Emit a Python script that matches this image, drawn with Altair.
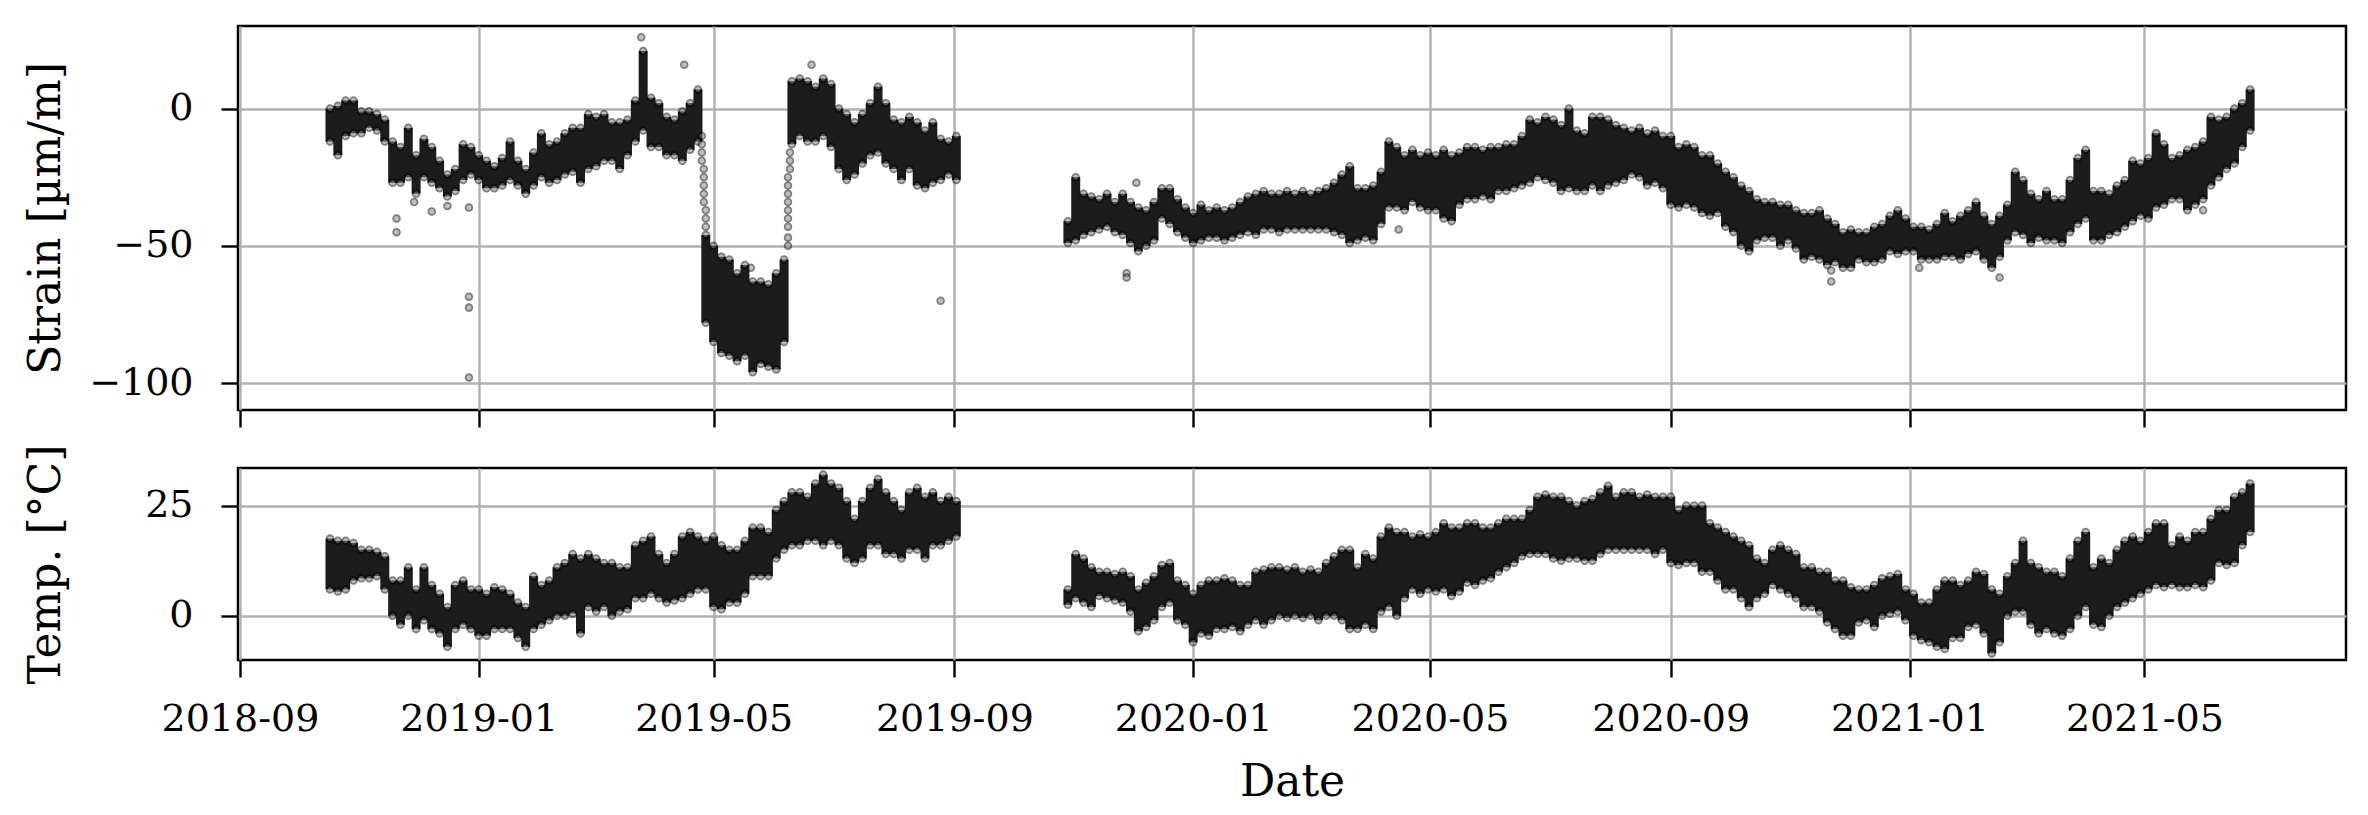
import altair as alt
import pandas as pd

# ---------------- data ----------------
# sampling every 4 days; "hi"/"lo" = upper / lower edge of the dense point band
STEP = "4D"
SEG1_START = "2018-10-17"
SEG2_START = "2019-10-29"

strain1_hi = [0, 1, 3, 3, -1, -1, -2, -4, -12, -14,
              -7, -17, -11, -14, -19, -24, -22, -13, -14, -17,
              -19, -21, -18, -12, -19, -22, -16, -9, -13, -12,
              -9, -7, -7, -2, -3, -2, -5, -5, -4, 3,
              21, 4, 2, -3, -4, -1, 2, 7, -46, -50,
              -54, -55, -60, -57, -63, -63, -64, -60, -55, 10,
              11, 10, 8, 11, 9, 0, -2, -5, -2, 2,
              8, 2, -4, -5, -3, -5, -8, -5, -11, -12,
              -10]
strain1_lo = [-12, -17, -10, -9, -9, -7, -8, -12, -27, -27,
              -25, -31, -25, -27, -29, -32, -30, -26, -24, -26,
              -29, -29, -28, -26, -28, -31, -28, -25, -27, -26,
              -24, -23, -27, -22, -21, -19, -19, -22, -17, -12,
              -8, -14, -14, -17, -17, -19, -15, -12, -78, -85,
              -89, -90, -92, -90, -96, -93, -94, -95, -85, -13,
              -10, -12, -12, -10, -14, -22, -26, -24, -20, -17,
              -16, -20, -22, -26, -22, -28, -29, -27, -26, -24,
              -26]
strain2_hi = [-41, -25, -31, -32, -33, -31, -34, -31, -34, -36,
              -37, -34, -29, -29, -33, -36, -38, -35, -37, -36,
              -37, -36, -34, -32, -31, -30, -31, -31, -30, -31,
              -30, -31, -30, -29, -27, -24, -21, -29, -29, -28,
              -23, -12, -14, -17, -15, -17, -16, -17, -15, -17,
              -16, -14, -14, -15, -14, -14, -13, -13, -10, -4,
              -5, -3, -4, -6, 0, -8, -9, -3, -3, -4,
              -6, -7, -8, -7, -9, -8, -10, -10, -14, -13,
              -14, -17, -17, -20, -23, -25, -28, -30, -33, -34,
              -34, -35, -35, -37, -38, -38, -37, -40, -42, -45,
              -44, -45, -45, -43, -42, -39, -37, -40, -43, -43,
              -44, -42, -38, -41, -39, -37, -34, -39, -42, -39,
              -35, -23, -26, -31, -33, -30, -33, -33, -26, -18,
              -15, -30, -30, -31, -28, -26, -19, -20, -18, -9,
              -13, -18, -17, -15, -14, -12, -3, -4, -3, 0,
              2, 7]
strain2_lo = [-49, -48, -46, -45, -44, -43, -45, -46, -49, -52,
              -50, -48, -40, -42, -45, -47, -49, -48, -47, -47,
              -48, -47, -46, -45, -46, -44, -44, -45, -44, -44,
              -44, -44, -44, -44, -45, -46, -49, -48, -47, -48,
              -42, -36, -36, -37, -34, -36, -37, -37, -40, -41,
              -35, -33, -33, -32, -33, -30, -30, -29, -28, -27,
              -25, -26, -27, -30, -29, -30, -30, -28, -30, -28,
              -27, -26, -24, -25, -28, -27, -29, -35, -36, -35,
              -36, -38, -39, -38, -43, -45, -50, -52, -48, -47,
              -47, -50, -48, -51, -55, -54, -55, -57, -56, -58,
              -58, -55, -56, -56, -55, -52, -53, -52, -52, -55,
              -55, -55, -54, -54, -55, -53, -52, -55, -58, -54,
              -48, -45, -46, -49, -47, -48, -48, -49, -45, -42,
              -40, -48, -48, -46, -45, -43, -41, -39, -40, -36,
              -35, -33, -33, -37, -35, -33, -28, -25, -22, -20,
              -14, -8]

# isolated strain readings (outliers and the fast drop / recovery in 2019)
strain_out_dates = ["2018-11-20", "2018-11-20", "2018-11-29", "2018-12-08", "2018-12-16",
                    "2018-12-27", "2018-12-27", "2018-12-27", "2018-12-27", "2019-03-25",
                    "2019-04-16", "2019-05-20", "2019-06-20", "2019-08-25", "2019-11-28",
                    "2019-11-28", "2019-12-03", "2020-04-15", "2020-11-22", "2020-11-22",
                    "2021-01-06", "2021-02-16", "2021-05-31",
                    "2019-04-25", "2019-04-25", "2019-04-25", "2019-04-25", "2019-04-26",
                    "2019-04-26", "2019-04-26", "2019-04-26", "2019-04-26", "2019-04-27",
                    "2019-04-27", "2019-04-27",
                    "2019-06-08", "2019-06-08", "2019-06-08", "2019-06-08", "2019-06-08",
                    "2019-06-08", "2019-06-08", "2019-06-08", "2019-06-08", "2019-06-09",
                    "2019-06-09", "2019-06-09"]
strain_out_vals = [-40, -45, -34, -37.5, -35.5, -36, -68.5, -72.5, -98, 26,
                   16, -58, 16, -70, -60, -61.5, -27, -44, -59, -63,
                   -58, -61.5, -37,
                   -10, -13, -16, -19, -22, -25, -28, -31, -34, -37,
                   -40, -43,
                   -50, -47, -43, -40, -37, -34, -31, -28, -25, -22,
                   -19, -16]

temp1_hi = [17.5, 17, 17, 16.5, 15, 15, 14.5, 13.5, 8, 8,
            11, 6, 11, 7, 5, 2, 7, 8, 6, 6,
            5, 6.5, 6, 5, 3, 2, 9, 7, 8, 11,
            12, 14, 13, 14, 13, 12, 12, 11, 11, 16,
            17, 18, 14, 12, 14, 18, 19, 18, 17, 18,
            16, 15, 15, 17, 20, 20, 19, 24, 26, 28,
            28, 27, 30, 32, 30, 29, 26, 22, 26, 29,
            31, 28, 26, 24, 28, 29, 27, 28, 26, 27,
            26]
temp1_lo = [6, 5.5, 6, 8, 8.5, 8.5, 9, 6, 0, -2,
            0, -3, -1, -3, -4, -7, -3, -2, -3, -4.5,
            -4.5, -3, -3, -3, -5, -7, -3, -2, -1, 0,
            0, 0.5, -4, 2, 1, 2, 0, 1, 1.5, 4,
            4, 5, 4, 3, 3.5, 4, 5, 6, 6, 2,
            1.5, 3, 3, 5, 9, 9, 9, 13, 15, 16,
            16, 17, 17, 16, 17, 16, 13, 12, 13, 16,
            16, 14, 14, 13, 15, 15, 13, 16, 16, 17,
            18]
temp2_hi = [6, 14, 13, 11, 10, 10, 9.5, 10, 9, 6,
            7.5, 9, 11.5, 12, 8, 7, 5, 7, 8, 8,
            8.5, 8, 7, 7, 10, 10.5, 11, 11, 10.5, 11,
            10, 10.5, 10, 12, 13.5, 15, 15, 11, 14, 13,
            18, 20, 19, 19, 18, 18.5, 18, 19, 21, 20,
            20, 21, 21, 20, 20, 21, 22, 22, 22, 24,
            27, 27.5, 27, 27, 26, 25, 26, 26.5, 28, 29.5,
            27, 28, 28, 27, 27.5, 27, 27, 27, 24, 25,
            25, 25, 21, 20, 19, 18, 17, 16, 13, 12,
            15, 16, 15, 14, 11, 11, 10, 10, 8, 8,
            6.5, 6, 6, 7, 8.5, 9, 9.5, 6, 5, 3,
            3, 6, 8, 8, 7, 8, 10, 9.5, 6, 5,
            9, 12, 17, 12, 11, 10, 10, 9, 13, 17,
            19, 11, 13, 12, 15, 17, 18, 17, 19, 21,
            21, 16, 18, 17, 19, 19, 22, 24, 24, 27,
            28, 30]
temp2_lo = [2.5, 4, 3, 2, 4.5, 4, 3.5, 3, 1, -3.5,
            -2.5, -1, 2, 3, -1, -2, -6, -4, -4.5, -3,
            -3, -2.5, -3.5, -2, -1, -2, -1, 0, -0.5, 0,
            -0.5, 0, -1, 0, 0, -1, -3, -3, -2, -3,
            1, 2, 0, 4, 6, 5, 6, 5.5, 6, 4.5,
            5.5, 7.5, 7, 8, 8.5, 10, 11, 12, 13.5, 14,
            14, 14, 13, 12.5, 13, 13, 12.5, 12.5, 14, 15,
            15, 15, 15, 15, 15, 14, 15, 12, 11.5, 12,
            12, 10, 10, 8, 6, 6, 4, 2, 4, 5,
            7, 6, 5, 4, 2, 2, 1, -1.5, -3, -4.5,
            -4.5, -1.5, -1, -2.5, 0, 0.5, 1, -1, -4.5, -5.5,
            -6, -7, -7.5, -5, -5, -2.5, -2, -4, -8.5, -6,
            0, 1, 1, -2, -4, -3, -4, -4.5, -3, 0,
            2, -2, -2.5, 0, 2, 3, 4, 5, 6, 7,
            6.5, 7, 6.5, 6.5, 7, 6.5, 8, 12, 11.5, 12,
            16, 19]

TICK_MONTHS = [(2018, 9), (2019, 1), (2019, 5), (2019, 9), (2020, 1),
               (2020, 5), (2020, 9), (2021, 1), (2021, 5)]
STRAIN_TICKS = [-100, -50, 0]
TEMP_TICKS = [0, 25]

# ---------------- tables ----------------
def band(start, hi, lo):
    n = min(len(hi), len(lo))
    return pd.DataFrame({"date": pd.date_range(start, periods=n, freq=STEP),
                         "hi": hi[:n], "lo": lo[:n]})


def points(b, extra_dates=None, extra_vals=None):
    parts = [b[["date", "hi"]].rename(columns={"hi": "v"}),
             b[["date", "lo"]].rename(columns={"lo": "v"})]
    if extra_dates:
        n = min(len(extra_dates), len(extra_vals))
        parts.append(pd.DataFrame({"date": pd.to_datetime(extra_dates[:n]), "v": extra_vals[:n]}))
    return pd.concat(parts, ignore_index=True)


strain_band = pd.concat([band(SEG1_START, strain1_hi, strain1_lo),
                         band(SEG2_START, strain2_hi, strain2_lo)], ignore_index=True)
temp_band = pd.concat([band(SEG1_START, temp1_hi, temp1_lo),
                       band(SEG2_START, temp2_hi, temp2_lo)], ignore_index=True)
strain_pts = points(strain_band, strain_out_dates, strain_out_vals)
temp_pts = points(temp_band)

# ---------------- chart ----------------
FONT = "DejaVu Serif"
W = 2108
H_TOP = 384
H_BOT = 192
X_DOMAIN = [alt.DateTime(year=2018, month=8, date=31), alt.DateTime(year=2021, month=8, date=12)]
TICK_VALUES = [alt.DateTime(year=y, month=m, date=1) for y, m in TICK_MONTHS]


def x_enc(show_labels):
    kw = dict(values=TICK_VALUES, format="%Y-%m", labels=show_labels, labelFlush=False,
              labelPadding=23, grid=True)
    if show_labels:
        kw.update(title="Date", titleY=135, titleBaseline="alphabetic")
    else:
        kw.update(title=None)
    return alt.X("date:T", scale=alt.Scale(domain=X_DOMAIN, nice=False), axis=alt.Axis(**kw))


def y_axis(title, ticks, h):
    return alt.Axis(values=ticks, title=title, titleX=-179, titleY=h / 2, titleAngle=270,
                    titleBaseline="alphabetic", labelPadding=28, grid=True)


def panel(band_df, pts_df, title, ticks, domain, h, show_labels):
    sc = alt.Scale(domain=domain, nice=False, zero=False)
    ax = y_axis(title, ticks, h)
    rules = alt.Chart(band_df).mark_rule(strokeWidth=9, color="#1c1c1c").encode(
        x=x_enc(show_labels),
        y=alt.Y("lo:Q", scale=sc, axis=ax),
        y2="hi:Q",
    )
    dots = alt.Chart(pts_df).mark_point(shape="circle", filled=True, fill="#808080",
                                         stroke="black", strokeWidth=1.8, opacity=0.5,
                                         size=45).encode(
        x=x_enc(show_labels),
        y=alt.Y("v:Q", scale=sc, axis=ax),
    )
    return alt.layer(rules, dots).properties(width=W, height=h)


top = panel(strain_band, strain_pts, "Strain [µm/m]", STRAIN_TICKS, [-109.8, 30.1], H_TOP, False)
bottom = panel(temp_band, temp_pts, "Temp. [°C]", TEMP_TICKS, [-10.0, 33.5], H_BOT, True)

chart = alt.vconcat(top, bottom, spacing=58, bounds="flush").properties(
    autosize=alt.AutoSizeParams(type="pad"),
    padding={"left": 14, "top": 16, "right": 8, "bottom": 2},
).configure_view(
    stroke="black", strokeWidth=2.5
).configure_axis(
    domain=False,
    gridColor="#b0b0b0", gridWidth=2.4, gridOpacity=1,
    tickColor="black", tickWidth=2.4, tickSize=17,
    labelFont=FONT, labelFontSize=38, labelColor="black",
    titleFont=FONT, titleFontSize=44, titleFontWeight="normal", titleColor="black",
)

chart.save("out.html", embed_options={"renderer": "svg", "actions": False})
